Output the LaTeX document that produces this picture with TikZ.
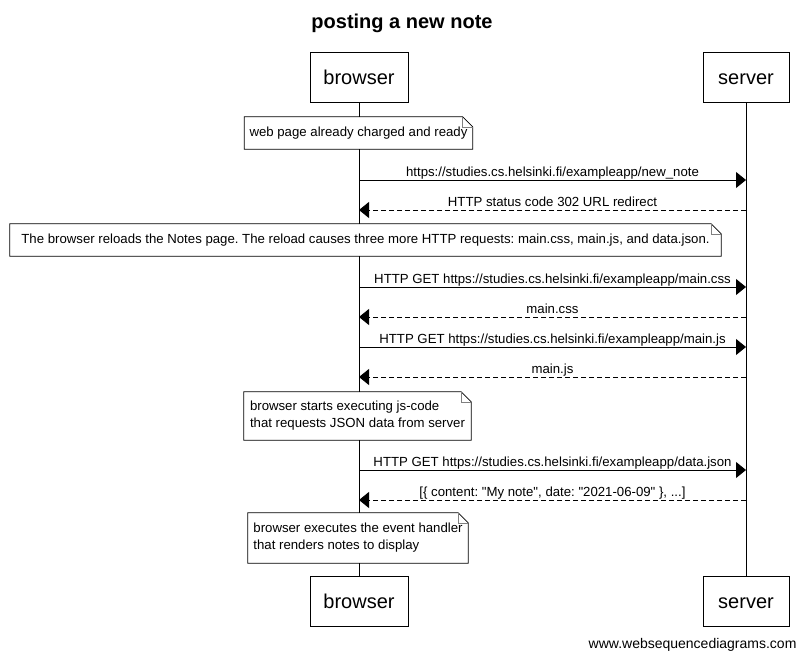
\documentclass[tikz,border=0pt]{standalone}
\usepackage{fontspec}
\setmainfont{Liberation Sans}
\usetikzlibrary{arrows.meta,positioning,calc}
\frenchspacing

\begin{document}
\begin{tikzpicture}[x=1pt, y=-1pt,
    actor/.style={rectangle, draw, fill=white, line width=0.8pt, minimum height=50pt, text height=16pt, text depth=2pt, font=\fontsize{20}{24}\selectfont},
    note/.style={rectangle, fill=white, inner sep=5pt, align=left, font=\fontsize{13.2}{16}\selectfont},
    msg/.style={-{Triangle[length=10pt,width=16pt]}, line width=0.8pt},
    reply/.style={msg, dash pattern=on 5pt off 3pt},
    lbl/.style={font=\fontsize{13.2}{16}\selectfont, anchor=base, yshift=4pt, inner sep=0pt},
    lifeline/.style={line width=0.8pt}
]
\useasboundingbox (0,0) rectangle (804,659);

% Title
\node[font=\fontsize{20}{24}\selectfont\bfseries] (title) at (402,23) {posting a new note};

% Participants
\node[actor, minimum width=98pt] (browser) at (359,77) {browser};
\node[actor, minimum width=86pt] (server) at (746,77) {server};
\node[actor, minimum width=98pt] (browserb) at (359,601.5) {browser};
\node[actor, minimum width=86pt] (serverb) at (746,601.5) {server};

% Lifelines
\draw[lifeline] (browser.south) -- (browserb.north);
\draw[lifeline] (server.south) -- (serverb.north);

% Message ends
\foreach \i/\y in {1/180,2/210,3/287,4/317,5/347,6/377,7/470,8/500} {
  \coordinate (b\i) at (359,\y);
  \coordinate (s\i) at (746,\y);
}

% Notes
\node[note, minimum width=223pt, minimum height=32pt] (n1) at (358.5,133) {web page already charged and ready};
\node[note, minimum width=711pt, minimum height=32pt] (n2) at (365.5,240) {The browser reloads the Notes page. The reload causes three more HTTP requests: main.css, main.js, and data.json.};
\node[note, minimum width=227pt, minimum height=48pt] (n3) at (357.5,416) {browser starts executing js-code\\[1pt]that requests JSON data from server};
\node[note, minimum width=220pt, minimum height=50pt] (n4) at (358,538) {browser executes the event handler\\[1pt]that renders notes to display};
\foreach \n in {n1,n2,n3,n4} {
  \draw[line width=0.8pt] (\n.south west) -- (\n.north west) -- ($(\n.north east)+(-10,0)$) -- ($(\n.north east)+(0,10)$) -- (\n.south east) -- cycle;
  \draw[line width=0.5pt, gray] ($(\n.north east)+(-10,0)$) -- ++(0,10) -- ($(\n.north east)+(0,10)$);
}

% Messages
\draw[msg] (b1) -- node[lbl] {https://studies.cs.helsinki.fi/exampleapp/new\_note} (s1);
\draw[reply] (s2) -- node[lbl] {HTTP status code 302 URL redirect} (b2);
\draw[msg] (b3) -- node[lbl] {HTTP GET https://studies.cs.helsinki.fi/exampleapp/main.css} (s3);
\draw[reply] (s4) -- node[lbl] {main.css} (b4);
\draw[msg] (b5) -- node[lbl] {HTTP GET https://studies.cs.helsinki.fi/exampleapp/main.js} (s5);
\draw[reply] (s6) -- node[lbl] {main.js} (b6);
\draw[msg] (b7) -- node[lbl] {HTTP GET https://studies.cs.helsinki.fi/exampleapp/data.json} (s7);
\draw[reply] (s8) -- node[lbl] {[\{ content: \textquotedbl My note\textquotedbl, date: \textquotedbl 2021-06-09\textquotedbl\ \}, ...]} (b8);

% Footer
\node[font=\fontsize{14}{17}\selectfont, anchor=east] (footer) at (800,645) {www.websequencediagrams.com};

\end{tikzpicture}
\end{document}
